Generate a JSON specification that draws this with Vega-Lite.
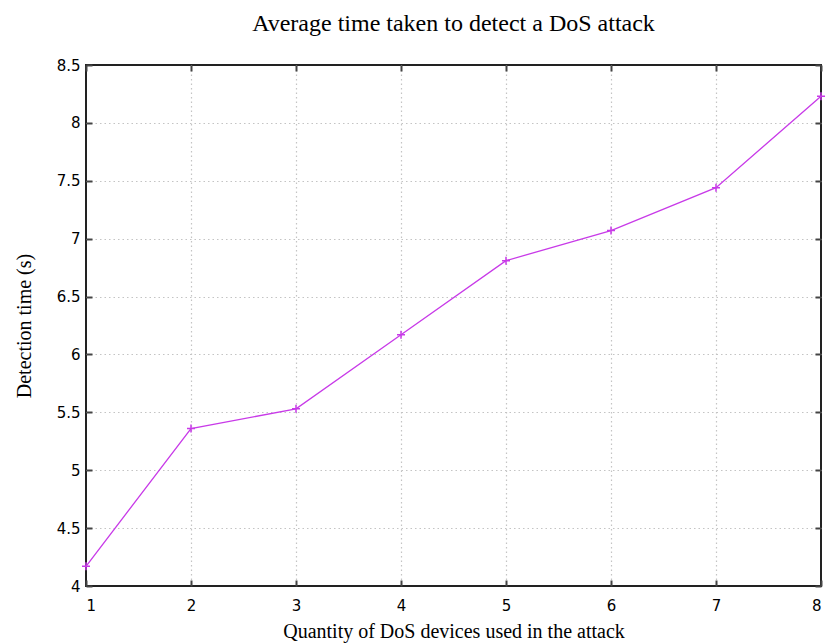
{
  "$schema": "https://vega.github.io/schema/vega-lite/v6.json",
  "width": 735,
  "height": 521,
  "autosize": {"type": "none"},
  "padding": {"left": 86, "top": 65, "right": 6, "bottom": 58},
  "background": "white",
  "title": {
    "text": "Average time taken to detect a DoS attack",
    "font": "Liberation Serif",
    "fontSize": 24,
    "fontWeight": "normal",
    "color": "#000000",
    "offset": 22,
    "anchor": "middle"
  },
  "config": {
    "view": {"stroke": "#222222", "strokeWidth": 2},
    "axis": {
      "labelFont": "DejaVu Sans",
      "labelFontSize": 15,
      "labelColor": "#000000",
      "titleFont": "Liberation Serif",
      "titleFontSize": 20,
      "titleFontWeight": "normal",
      "titleColor": "#000000",
      "gridColor": "#c4c4c4",
      "gridDash": [1.5, 3],
      "gridWidth": 1.2,
      "domain": false,
      "tickColor": "#444444",
      "tickWidth": 2,
      "tickSize": -6
    }
  },
  "data": {
    "values": [
      {"n": 1, "t": 4.17},
      {"n": 2, "t": 5.36},
      {"n": 3, "t": 5.53},
      {"n": 4, "t": 6.17},
      {"n": 5, "t": 6.81},
      {"n": 6, "t": 7.07},
      {"n": 7, "t": 7.44},
      {"n": 8, "t": 8.23}
    ]
  },
  "resolve": {"axis": {"x": "independent", "y": "independent"}},
  "layer": [
    {
      "mark": {"type": "line", "color": "#c83ae8", "strokeWidth": 1.3},
      "encoding": {
        "x": {
          "field": "n",
          "type": "quantitative",
          "scale": {"domain": [1, 8], "nice": false},
          "axis": {
            "title": "Quantity of DoS devices used in the attack",
            "values": [1, 2, 3, 4, 5, 6, 7, 8],
            "format": "~g",
            "grid": true,
            "labelPadding": 18,
            "titlePadding": 8,
            "gridOpacity": {"condition": {"test": "datum.value == 1 || datum.value == 8", "value": 0}, "value": 1}
          }
        },
        "y": {
          "field": "t",
          "type": "quantitative",
          "scale": {"domain": [4, 8.5], "nice": false, "zero": false},
          "axis": {
            "title": "Detection time (s)",
            "values": [4, 4.5, 5, 5.5, 6, 6.5, 7, 7.5, 8, 8.5],
            "format": "~g",
            "grid": true,
            "labelPadding": 12,
            "titlePadding": 22,
            "gridOpacity": {"condition": {"test": "datum.value == 4 || datum.value == 8.5", "value": 0}, "value": 1}
          }
        }
      }
    },
    {
      "mark": {
        "type": "point",
        "shape": "M-1,0H1M0,-1V1",
        "size": 64,
        "color": "#c83ae8",
        "strokeWidth": 1.5,
        "filled": false,
        "opacity": 1
      },
      "encoding": {
        "x": {
          "field": "n",
          "type": "quantitative",
          "axis": {
            "orient": "top",
            "values": [1, 2, 3, 4, 5, 6, 7, 8],
            "labels": false,
            "title": null,
            "grid": false
          }
        },
        "y": {
          "field": "t",
          "type": "quantitative",
          "axis": {
            "orient": "right",
            "values": [4, 4.5, 5, 5.5, 6, 6.5, 7, 7.5, 8, 8.5],
            "labels": false,
            "title": null,
            "grid": false
          }
        }
      }
    }
  ]
}
